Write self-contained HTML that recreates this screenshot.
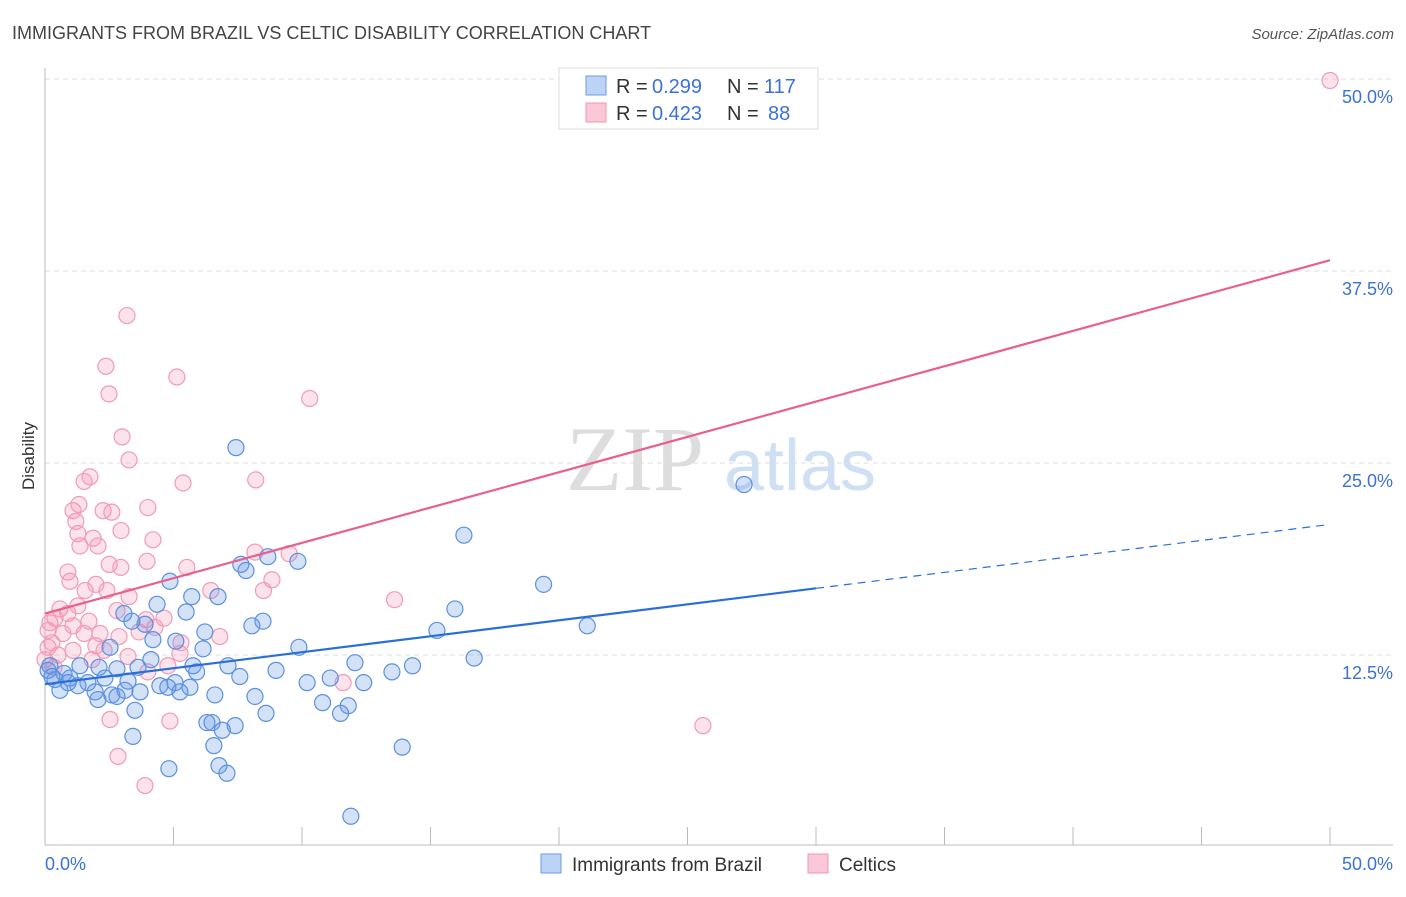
<!DOCTYPE html>
<html><head><meta charset="utf-8"><style>
body{margin:0;background:#fff;font-family:"Liberation Sans",sans-serif}
</style></head><body>
<svg id="chart" width="1406" height="892" xmlns="http://www.w3.org/2000/svg" font-family="Liberation Sans, sans-serif">
<text x="12" y="39" font-size="18" fill="#444">IMMIGRANTS FROM BRAZIL VS CELTIC DISABILITY CORRELATION CHART</text>
<text x="1394" y="39" font-size="15" fill="#555" font-style="italic" text-anchor="end">Source: ZipAtlas.com</text>
<text transform="translate(34,456) rotate(-90)" font-size="17" fill="#333" text-anchor="middle">Disability</text>
<g>
<text x="635" y="490" font-size="92" fill="#ddd" font-family="Liberation Serif, serif" text-anchor="middle">ZIP</text>
<text x="800" y="490" font-size="72" fill="#cfe0f5" text-anchor="middle">atlas</text>
</g>
<g id="grid"></g>
<g id="axes"></g>
<g id="pts"></g>
<g id="trend"></g>
<g>
<rect x="559" y="68" width="259" height="61" fill="#fff" stroke="#ddd"/>
<rect x="586" y="76" width="20" height="19" fill="#bcd3f5" stroke="#6b9be6"/>
<rect x="586" y="103" width="20" height="19" fill="#fbc8d7" stroke="#f093b0"/>
<text x="616" y="93" font-size="20" fill="#333">R =</text>
<text x="652" y="93" font-size="20" fill="#3a72d8">0.299</text>
<text x="727" y="93" font-size="20" fill="#333">N =</text>
<text x="764" y="93" font-size="20" fill="#3a72d8">117</text>
<text x="616" y="120" font-size="20" fill="#333">R =</text>
<text x="652" y="120" font-size="20" fill="#3a72d8">0.423</text>
<text x="727" y="120" font-size="20" fill="#333">N =</text>
<text x="768" y="120" font-size="20" fill="#3a72d8">88</text>
</g>
<g>
<rect x="541" y="854" width="20" height="19" fill="#bcd3f5" stroke="#6b9be6"/>
<text x="572" y="871" font-size="19" fill="#333">Immigrants from Brazil</text>
<rect x="808" y="854" width="20" height="19" fill="#fbc8d7" stroke="#f093b0"/>
<text x="839" y="871" font-size="19" fill="#333">Celtics</text>
</g>
</svg>
<script>
const blueX=[7.43,27.2,16.3,19.4,9.84,8.67,7.62,7.82,4.86,5.71,6.73,4.36,5.49,15.95,21.1,15.25,8.48,8.05,3.07,3.89,3.38,6.22,5.09,4.2,2.53,9.88,6.15,16.7,12.06,14.3,13.5,8.99,7.12,5.76,5.9,4.12,3.62,2.8,2.1,1.36,0.74,0.19,0.39,0.97,1.67,2.33,3.23,4.47,5.06,5.64,7.58,10.2,11.1,12.4,0.58,1.28,1.95,2.6,3.11,3.7,4.78,5.25,6.61,8.17,10.8,11.8,2.06,2.8,3.5,8.6,11.5,6.3,6.5,7.4,6.9,3.42,6.57,13.9,6.77,7.08,4.82,11.9,0.12,0.27,0.9];
const blueY=[26.0,23.6,20.3,17.1,18.6,18.9,18.4,18.0,17.3,16.3,16.3,15.8,15.3,15.5,14.4,14.1,14.7,14.4,15.2,14.5,14.7,14.0,13.4,13.5,13.0,13.0,12.9,12.3,12.0,11.8,11.4,11.5,11.8,11.8,11.4,12.2,11.7,11.6,11.7,11.8,11.3,11.8,10.9,11.0,10.7,11.0,10.8,10.5,10.7,10.4,11.1,10.7,11.0,10.7,10.2,10.5,10.1,9.9,10.2,10.1,10.4,10.1,9.9,9.8,9.4,9.2,9.6,9.8,8.9,8.7,8.7,8.1,8.1,7.9,7.6,7.2,6.6,6.5,5.3,4.8,5.1,2.0,11.5,11.1,10.7];
const pinkX=[50,3.19,2.37,5.13,2.49,10.3,3.0,3.27,1.75,1.52,5.37,8.2,1.32,1.09,2.26,2.6,4.0,1.2,2.96,1.28,1.87,1.36,2.06,4.2,8.17,9.5,2.5,2.95,3.97,5.52,0.89,0.97,8.83,1.98,2.41,1.56,6.45,8.5,3.27,13.6,1.28,0.58,0.89,2.8,0.39,1.71,1.09,3.93,4.63,4.28,0.12,0.7,1.52,2.14,2.88,3.66,6.8,5.29,0.27,1.98,1.09,2.3,0.51,5.25,3.23,0,1.83,4.78,4.0,0.35,11.6,2.53,4.86,25.6,2.84,3.89,0.12,0.19];
const pinkY=[49.9,34.6,31.3,30.6,29.5,29.2,26.7,25.2,24.1,23.8,23.7,23.9,22.3,21.9,21.9,21.8,22.1,21.2,20.6,20.4,20.1,19.6,19.6,20.0,19.2,19.1,18.4,18.2,18.6,18.2,17.9,17.3,17.4,17.1,16.7,16.7,16.7,16.7,16.3,16.1,15.7,15.5,15.2,15.4,14.9,14.7,14.4,14.8,14.9,14.3,14.1,13.9,13.9,13.9,13.7,14.0,13.7,13.3,13.3,13.1,12.8,12.8,12.5,12.6,12.4,12.2,12.2,11.8,11.4,11.7,10.7,8.3,8.2,7.9,5.9,4.0,13.0,14.6];
const blueTrend=[10.6,21.0];
const pinkTrend=[15.2,38.2];
const yTicks=[12.5,25,37.5,50];
const yTickLabels=["12.5%","25.0%","37.5%","50.0%"];
const xTicks=[0,5,10,15,20,25,30,35,40,45,50];
const NS="http://www.w3.org/2000/svg";
const X=v=>45+v/50*1285, Y=v=>847-v/50*768;
function mk(t,a,p){const e=document.createElementNS(NS,t);for(const k in a)e.setAttribute(k,a[k]);p.appendChild(e);return e;}
const grid=document.getElementById('grid'),axes=document.getElementById('axes'),pts=document.getElementById('pts'),tr=document.getElementById('trend');
yTicks.forEach((v,i)=>{
 const l=mk('line',{x1:45,x2:1393,y1:Y(v),y2:Y(v),stroke:'#ddd','stroke-dasharray':'5,4'},grid);
 
 
 const t=mk('text',{x:1393,y:Y(v)+24,'font-size':18,fill:'#3a72d8','text-anchor':'end'},axes);
 t.textContent=yTickLabels[i];
 
 
});
let a=mk('line',{x1:45,x2:45,y1:68,y2:845,stroke:'#bbb'},axes);


a=mk('line',{x1:45,x2:1393,y1:845,y2:845,stroke:'#bbb'},axes);


xTicks.forEach(v=>{const l=mk('line',{x1:X(v),x2:X(v),y1:827,y2:845,stroke:'#bbb'},axes);
 
 });
let t=mk('text',{x:45,y:870,'font-size':18,fill:'#3a72d8'},axes);t.textContent='0.0%';


t=mk('text',{x:1393,y:870,'font-size':18,fill:'#3a72d8','text-anchor':'end'},axes);t.textContent='50.0%';


function dots(xs,ys,fill,stroke,name){xs.forEach((x,i)=>{const c=mk('circle',{cx:X(x),cy:Y(ys[i]),r:8,fill:fill,stroke:stroke,'stroke-width':1.2},pts);
 
 });}
dots(pinkX,pinkY,'rgba(244,150,180,0.28)','#f29ab6','celtics-point');
dots(blueX,blueY,'rgba(100,150,230,0.28)','#5b8fe0','brazil-point');
const bAt=x=>blueTrend[0]+(blueTrend[1]-blueTrend[0])*x/50;
let l=mk('line',{x1:X(0),y1:Y(bAt(0)),x2:X(30),y2:Y(bAt(30)),stroke:'#2a6fd6','stroke-width':2.2},tr);


l=mk('line',{x1:X(30),y1:Y(bAt(30)),x2:X(50),y2:Y(bAt(50)),stroke:'#2a6fd6','stroke-width':1.2,'stroke-dasharray':'8,6'},tr);


l=mk('line',{x1:X(0),y1:Y(pinkTrend[0]),x2:X(50),y2:Y(pinkTrend[1]),stroke:'#e8608c','stroke-width':2.2},tr);


</script>
</body></html>
